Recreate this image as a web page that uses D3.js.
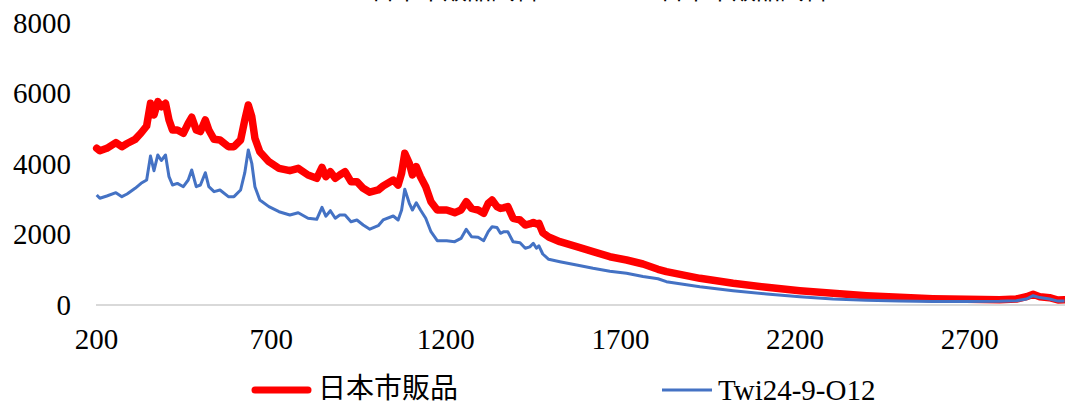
<!DOCTYPE html>
<html>
<head>
<meta charset="utf-8">
<script src="https://cdn.jsdelivr.net/npm/d3@7"></script>
<style>
  body { margin: 0; background: #fff; overflow: hidden; }
  svg { display: block; }
</style>
</head>
<body>
<script>
// Raman shift (cm-1)
var waveNumbers = [202, 211, 231, 257, 274, 289, 312, 329, 345, 356, 366, 377, 387, 399, 409, 419,
  433, 450, 464, 474, 487, 499, 513, 523, 538, 555, 579, 595, 614, 626, 636, 646, 655, 669, 695,
  724, 755, 779, 807, 832, 847, 858, 871, 885, 898, 913, 930, 947, 965, 984, 1008, 1022, 1051,
  1065, 1075, 1084, 1097, 1106, 1117, 1129, 1144, 1159, 1177, 1204, 1227, 1245, 1260, 1275, 1294,
  1310, 1323, 1334, 1348, 1358, 1368, 1379, 1394, 1414, 1429, 1442, 1452, 1461, 1468, 1479, 1496,
  1528, 1576, 1623, 1671, 1719, 1766, 1809, 1833, 1929, 2024, 2120, 2215, 2310, 2406, 2501, 2596,
  2692, 2787, 2835, 2864, 2883, 2902, 2930, 2954, 2973];

// 日本市販品 (red, thick)
var marketValues = [4445, 4377, 4445, 4605, 4491, 4580, 4700, 4880, 5078, 5722, 5390, 5768, 5626,
  5722, 5248, 4965, 4965, 4870, 5155, 5325, 4965, 4920, 5248, 4965, 4700, 4681, 4491, 4491, 4681,
  5248, 5674, 5342, 4729, 4349, 4065, 3878, 3810, 3878, 3688, 3594, 3906, 3640, 3782, 3594, 3688,
  3782, 3498, 3498, 3311, 3200, 3263, 3376, 3546, 3404, 3740, 4304, 4020, 3688, 3924, 3640, 3356,
  2931, 2695, 2695, 2619, 2695, 2931, 2743, 2695, 2602, 2885, 2979, 2790, 2740, 2760, 2790, 2460,
  2412, 2270, 2300, 2340, 2300, 2318, 2051, 1930, 1796, 1654, 1512, 1370, 1277, 1163, 1013, 945,
  757, 615, 501, 407, 331, 265, 218, 180, 161, 150, 170, 236, 303, 236, 208, 142, 150];

// Twi24-9-O12 (blue, thin)
var twiValues = [3120, 3027, 3092, 3186, 3073, 3150, 3311, 3452, 3546, 4227, 3810, 4256, 4100,
  4256, 3640, 3404, 3450, 3356, 3546, 3830, 3356, 3404, 3753, 3356, 3215, 3263, 3073, 3073, 3263,
  3753, 4398, 4020, 3356, 2979, 2790, 2647, 2553, 2619, 2460, 2430, 2772, 2520, 2675, 2460, 2553,
  2553, 2363, 2410, 2270, 2150, 2250, 2412, 2525, 2412, 2695, 3283, 2885, 2695, 2902, 2695, 2460,
  2080, 1825, 1825, 1796, 1890, 2148, 1938, 1920, 1825, 2080, 2221, 2200, 2034, 2080, 2080, 1796,
  1768, 1609, 1650, 1750, 1609, 1680, 1447, 1296, 1229, 1135, 1041, 960, 899, 810, 745, 662,
  520, 407, 312, 236, 170, 133, 113, 100, 100, 105, 120, 170, 264, 210, 170, 110, 110];

var xTicks = [200, 700, 1200, 1700, 2200, 2700];
var yTicks = [0, 2000, 4000, 6000, 8000];

var seriesNames = ["日本市販品", "Twi24-9-O12"];
var seriesColors = ["#ff0000", "#4472c4"];

var width = 1065, height = 403;

var svg = d3.select("body").append("svg")
    .attr("width", width)
    .attr("height", height);

var xScale = d3.scaleLinear().domain([200, 3000]).range([96, 1074]);
var yScale = d3.scaleLinear().domain([0, 8000]).range([305, 23]);

var serif = "'Liberation Serif', 'Times New Roman', serif";
var cjk = "'Noto Sans CJK JP', 'Noto Sans CJK SC', sans-serif";

// title, almost entirely above the top edge in the reference
svg.selectAll("text.title")
    .data([455, 744])
    .enter()
    .append("text")
    .attr("class", "title")
    .attr("x", function(d) { return d; })
    .attr("y", -1.5)
    .attr("text-anchor", "middle")
    .attr("font-family", cjk)
    .attr("font-size", "24px")
    .attr("fill", "#000")
    .text("日本市販品試料");

// zero line
svg.append("line")
    .attr("x1", xScale(200))
    .attr("x2", width)
    .attr("y1", yScale(0))
    .attr("y2", yScale(0))
    .attr("stroke", "#d9d9d9")
    .attr("stroke-width", 2);

var xAxis = d3.axisBottom(xScale).tickValues(xTicks).tickSize(0).tickPadding(23)
    .tickFormat(d3.format("d"));
var yAxis = d3.axisLeft(yScale).tickValues(yTicks).tickSize(0).tickPadding(25)
    .tickFormat(d3.format("d"));

var gx = svg.append("g")
    .attr("transform", "translate(0," + yScale(0) + ")")
    .call(xAxis);
gx.select(".domain").remove();
gx.selectAll("text")
    .attr("font-family", serif)
    .attr("font-size", "29px")
    .attr("fill", "#000");

var gy = svg.append("g")
    .attr("transform", "translate(" + xScale(200) + ",0)")
    .call(yAxis);
gy.select(".domain").remove();
gy.selectAll("text")
    .attr("font-family", serif)
    .attr("font-size", "29px")
    .attr("fill", "#000");

var line = d3.line()
    .x(function(d) { return xScale(d[0]); })
    .y(function(d) { return yScale(d[1]); });

var twiData = waveNumbers.map(function(w, i) { return [w, twiValues[i]]; });
var marketData = waveNumbers.map(function(w, i) { return [w, marketValues[i]]; });

svg.append("path")
    .datum(marketData)
    .attr("d", line)
    .attr("fill", "none")
    .attr("stroke", seriesColors[0])
    .attr("stroke-width", 7.5)
    .attr("stroke-linejoin", "round")
    .attr("stroke-linecap", "round");

svg.append("path")
    .datum(twiData)
    .attr("d", line)
    .attr("fill", "none")
    .attr("stroke", seriesColors[1])
    .attr("stroke-width", 3)
    .attr("stroke-linejoin", "round");

// legend
var legend = [
  {name: seriesNames[0], color: seriesColors[0], x: 255, w: 7, font: cjk, size: "28px"},
  {name: seriesNames[1], color: seriesColors[1], x: 662, w: 3, font: serif, size: "29px"}
];

var lg = svg.selectAll("g.legend")
    .data(legend)
    .enter()
    .append("g")
    .attr("class", "legend")
    .attr("transform", function(d) { return "translate(" + d.x + ",390)"; });

lg.append("line")
    .attr("x1", 0)
    .attr("x2", function(d, i) { return i === 0 ? 53 : 50; })
    .attr("y1", 0)
    .attr("y2", 0)
    .attr("stroke", function(d) { return d.color; })
    .attr("stroke-width", function(d) { return d.w; })
    .attr("stroke-linecap", function(d, i) { return i === 0 ? "round" : "butt"; });

lg.append("text")
    .attr("x", function(d, i) { return i === 0 ? 63 : 56; })
    .attr("y", function(d, i) { return i === 0 ? 8 : 10; })
    .attr("font-family", function(d) { return d.font; })
    .attr("font-size", function(d) { return d.size; })
    .attr("fill", "#000")
    .text(function(d) { return d.name; });
</script>
</body>
</html>
